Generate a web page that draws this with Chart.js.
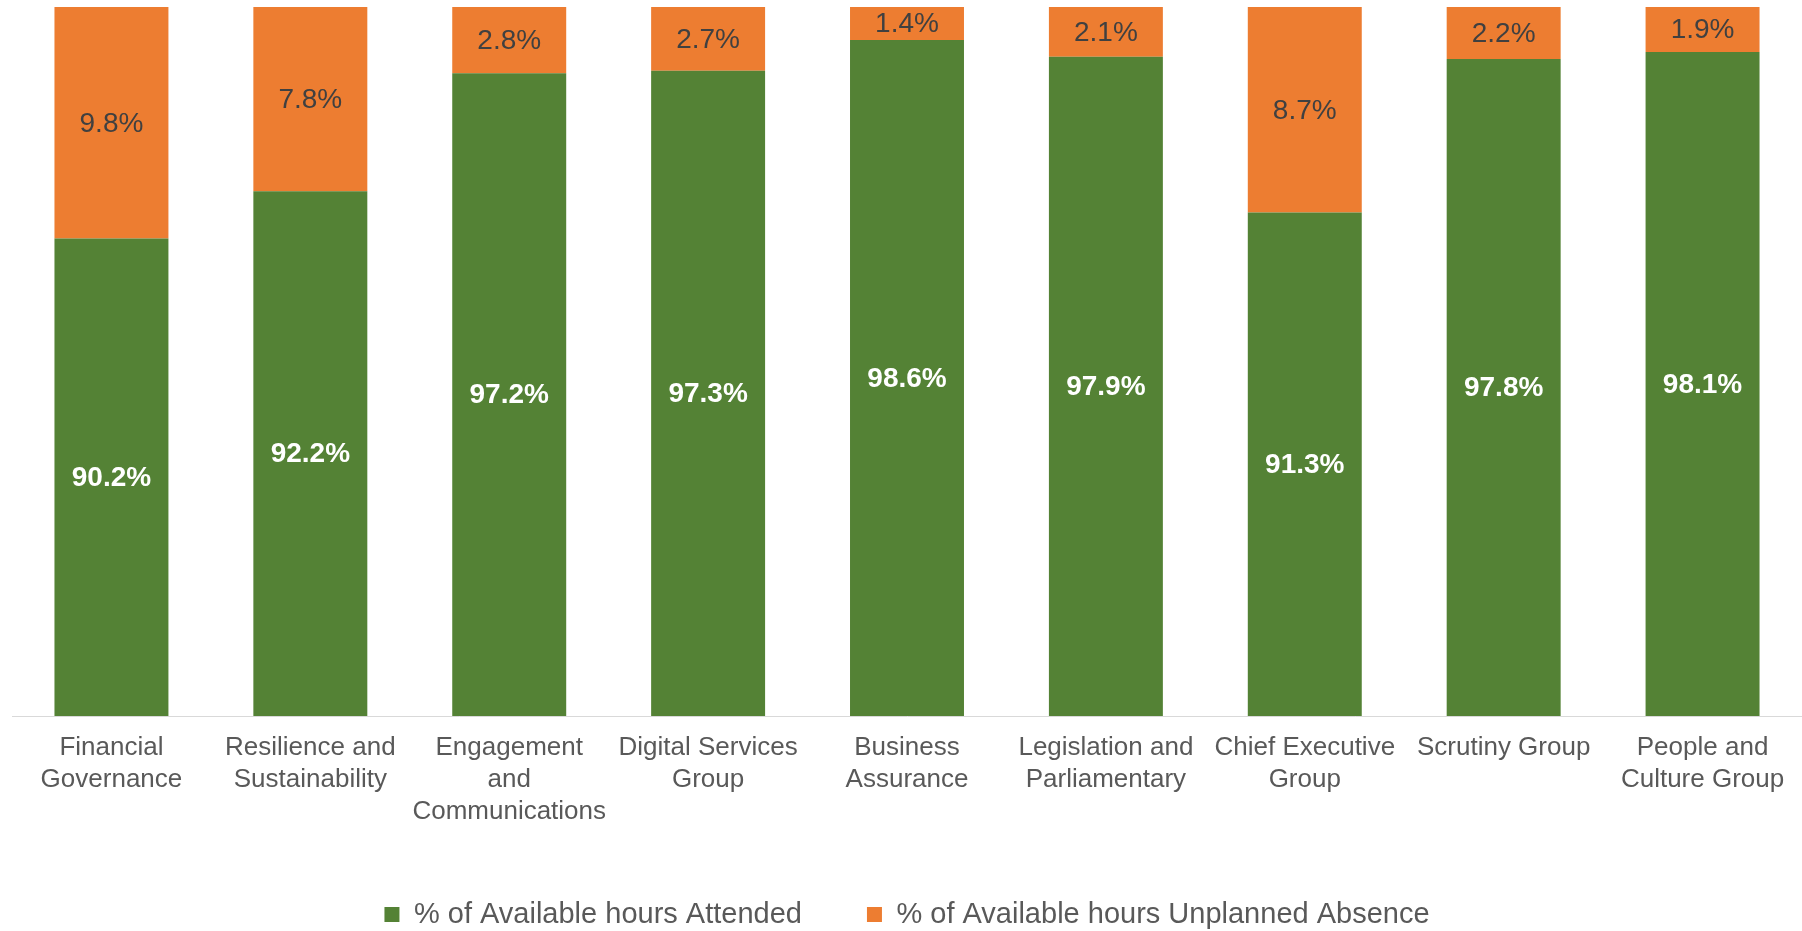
<!DOCTYPE html>
<html>
<head>
<meta charset="utf-8">
<script src="https://cdn.jsdelivr.net/npm/chart.js@4"></script>
<style>
  html, body { margin: 0; padding: 0; background: #ffffff; overflow: hidden; }
  #wrap { width: 1802px; height: 939px; }
</style>
</head>
<body>
<div id="wrap"><canvas id="c" width="1802" height="939"></canvas></div>
<script>
const categories = [
  ["Financial", "Governance"],
  ["Resilience and", "Sustainability"],
  ["Engagement", "and", "Communications"],
  ["Digital Services", "Group"],
  ["Business", "Assurance"],
  ["Legislation and", "Parliamentary"],
  ["Chief Executive", "Group"],
  ["Scrutiny Group"],
  ["People and", "Culture Group"]
];
const attended = [90.2, 92.2, 97.2, 97.3, 98.6, 97.9, 91.3, 97.8, 98.1];
const unplannedAbsence = [9.8, 7.8, 2.8, 2.7, 1.4, 2.1, 8.7, 2.2, 1.9];
const seriesNames = ["% of Available hours Attended", "% of Available hours Unplanned Absence"];
const yMin = 70;
const yMax = 100;

const FONT = '"Liberation Sans", Arial, sans-serif';

const barLabelPlugin = {
  id: 'barLabels',
  afterDatasetsDraw(chart) {
    const ctx = chart.ctx;
    const area = chart.chartArea;
    ctx.save();
    ctx.textAlign = 'center';
    ctx.textBaseline = 'middle';
    chart.data.datasets.forEach((ds, di) => {
      const meta = chart.getDatasetMeta(di);
      meta.data.forEach((bar, i) => {
        const v = ds.data[i];
        const top = Math.max(Math.min(bar.y, bar.base), area.top);
        const bottom = Math.min(Math.max(bar.y, bar.base), area.bottom);
        const cy = (top + bottom) / 2;
        if (di === 0) {
          ctx.font = 'bold 28px ' + FONT;
          ctx.fillStyle = '#ffffff';
        } else {
          ctx.font = '28px ' + FONT;
          ctx.fillStyle = '#404040';
        }
        ctx.fillText(v.toFixed(1) + '%', bar.x, cy + 1);
      });
    });
    ctx.restore();
  }
};

new Chart(document.getElementById('c'), {
  type: 'bar',
  data: {
    labels: categories,
    datasets: [
      { label: seriesNames[0], data: attended, backgroundColor: '#548235', borderWidth: 0 },
      { label: seriesNames[1], data: unplannedAbsence, backgroundColor: '#ED7D31', borderWidth: 0 }
    ]
  },
  options: {
    responsive: false,
    animation: false,
    layout: { padding: { left: 12, right: 0, top: 7, bottom: 0 } },
    datasets: { bar: { categoryPercentage: 1.0, barPercentage: 0.573 } },
    scales: {
      x: {
        stacked: true,
        grid: { display: false, drawTicks: false },
        border: { display: true, color: '#D9D9D9', width: 1 },
        ticks: {
          autoSkip: false,
          maxRotation: 0,
          minRotation: 0,
          padding: 16,
          color: '#595959',
          font: { family: FONT, size: 26, lineHeight: 1.23 }
        },
        afterFit(scale) { scale.height = 119; }
      },
      y: {
        stacked: true,
        display: false,
        min: yMin,
        max: yMax
      }
    },
    plugins: {
      tooltip: { enabled: false },
      legend: {
        position: 'bottom',
        labels: {
          boxWidth: 15,
          boxHeight: 15,
          padding: 65,
          color: '#595959',
          font: { family: FONT, size: 29 }
        }
      }
    }
  },
  plugins: [barLabelPlugin]
});
</script>
</body>
</html>
